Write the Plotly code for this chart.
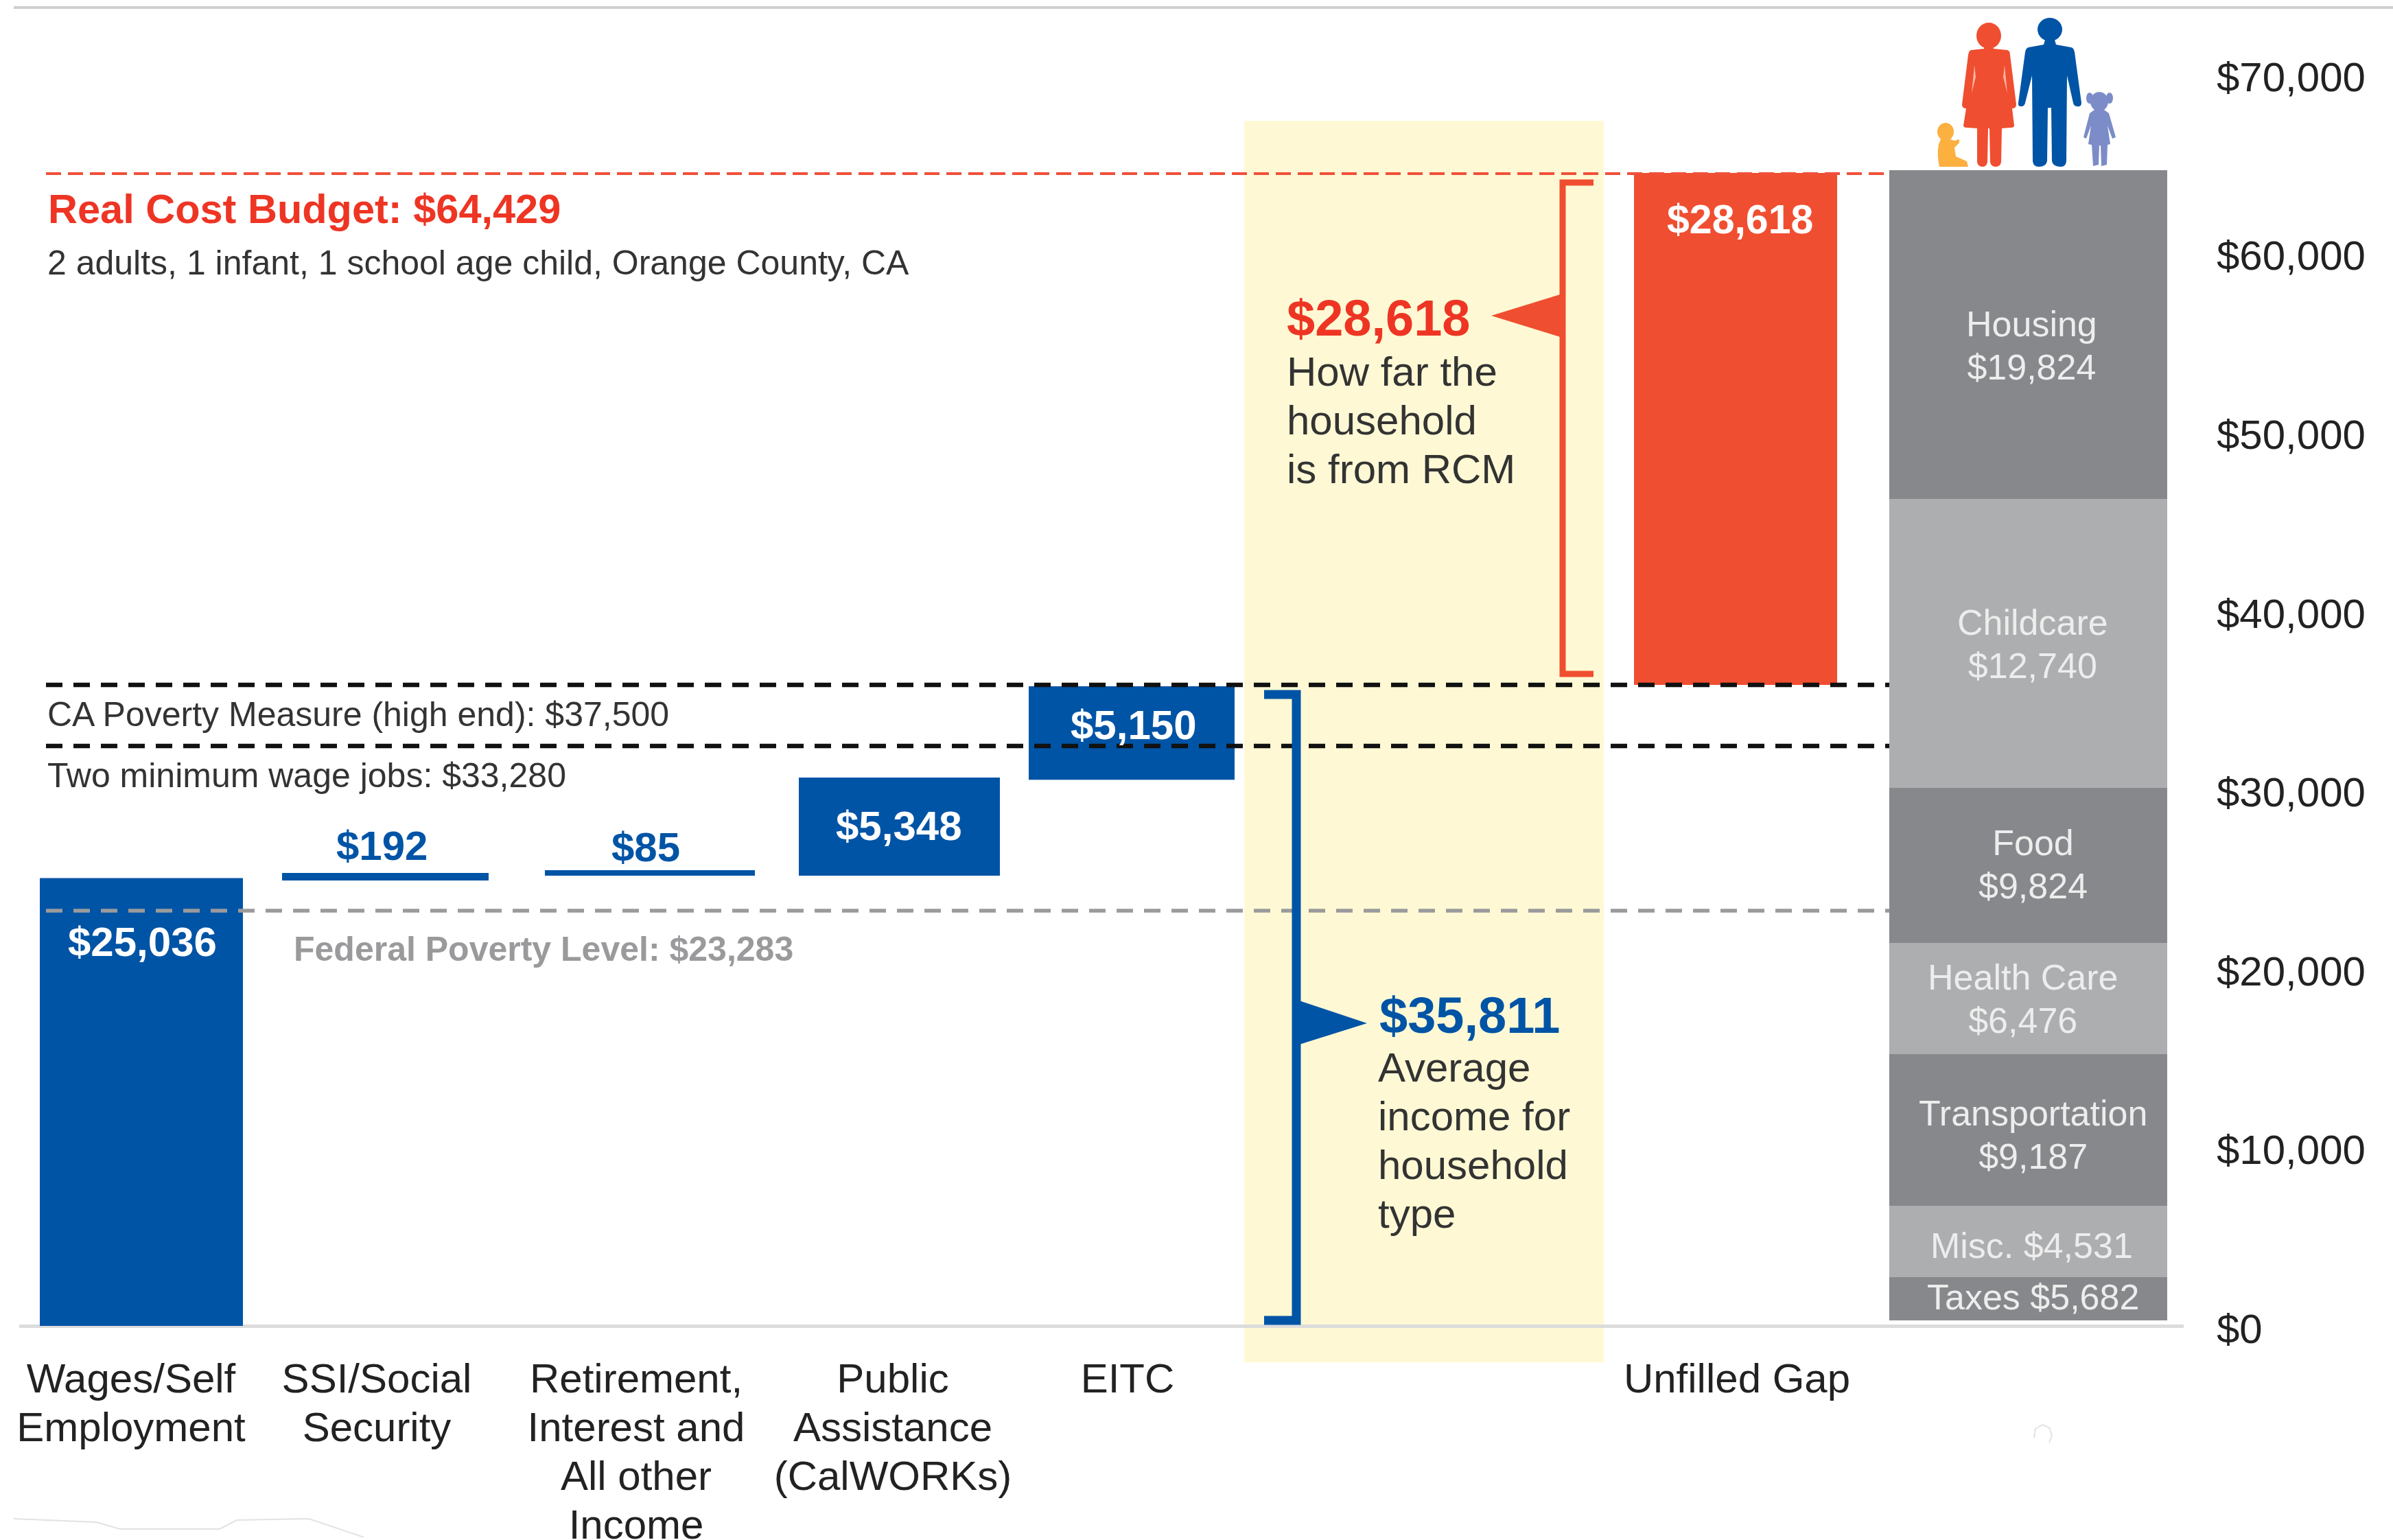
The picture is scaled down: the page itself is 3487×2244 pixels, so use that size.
import re
import plotly.graph_objects as go

# ---------- data ----------
categories = ["Wages/Self Employment", "SSI/Social Security", "Retirement, Interest and All other Income",
              "Public Assistance (CalWORKs)", "EITC", "Unfilled Gap"]
income_labels = ["$25,036", "$192", "$85", "$5,348", "$5,150"]
income_base = [0, 24900, 25170, 25170, 30540]
income_height = [25036, 430, 310, 5490, 5220]
gap_label = "$28,618"
gap_base = 35840
gap_height = 28630

budget_items = ["Taxes $5,682", "Misc. $4,531", "Transportation<br>$9,187", "Health Care<br>$6,476",
                "Food<br>$9,824", "Childcare<br>$12,740", "Housing<br>$19,824"]
budget_start = 307
budget_heights = [2417, 3991, 8481, 6216, 8672, 16156, 18380]

real_cost_level = 64429
ca_poverty_level = 35840
min_wage_level = 32425
federal_poverty_level = 23215
y_ticks = [0, 10000, 20000, 30000, 40000, 50000, 60000, 70000]
y_tick_labels = ["$0", "$10,000", "$20,000", "$30,000", "$40,000", "$50,000", "$60,000", "$70,000"]

# ---------- geometry / style ----------
W, H = 3487, 2244
ZERO_PX, PX_PER_UNIT = 1932, 0.02606
PLOT_L, PLOT_R, PLOT_T, PLOT_B = 28, 3182, 10, 1985
FONT = "Liberation Sans, Arial, sans-serif"
BLUE, ORANGE, RED = "#0054A6", "#F04E30", "#EE3524"
DARK_GREY, LIGHT_GREY = "#87888C", "#ADAEB0"
YELLOW = "#FEF9D4"
INK = "#333333"

def V(px):
    return (ZERO_PX - px) / PX_PER_UNIT

def path(d):
    toks = re.findall(r"[A-Za-z]|-?\d+\.?\d*", d)
    out, is_x = [], True
    for t in toks:
        if t.isalpha():
            out.append(t); is_x = True
        else:
            out.append(t if is_x else f"{V(float(t)):.1f}")
            is_x = not is_x
    return " ".join(out)

def spaced(lines, size):
    return "<br>".join(f'<span style="font-size:{size}px">{l}</span>' for l in lines)

income_x = [206, 561.5, 947, 1310.5, 1649]
income_w = [296, 301, 306, 293, 300]
gap_x, gap_w = 2529, 296
stack_x, stack_w = 2955.5, 405
tick_x = [191, 549, 927, 1301, 1643, 2531]
tick_lines = [["Wages/Self", "Employment"], ["SSI/Social", "Security"],
              ["Retirement,", "Interest and", "All other", "Income"],
              ["Public", "Assistance", "(CalWORKs)"], ["EITC"], ["Unfilled Gap"]]

fig = go.Figure()

fig.add_trace(go.Bar(x=income_x, y=income_height, base=income_base, width=income_w,
                     marker=dict(color=BLUE, line_width=0), name="Income sources", showlegend=False,
                     customdata=categories[:5]))
fig.add_trace(go.Bar(x=[gap_x], y=[gap_height], base=[gap_base], width=[gap_w],
                     marker=dict(color=ORANGE, line_width=0), name="Unfilled Gap", showlegend=False))
stack_base, acc = [], budget_start
for h in budget_heights:
    stack_base.append(acc); acc += h
fig.add_trace(go.Bar(x=[stack_x] * 7, y=budget_heights, base=stack_base, width=[stack_w] * 7,
                     marker=dict(color=[DARK_GREY, LIGHT_GREY] * 3 + [DARK_GREY], line_width=0),
                     name="Budget", showlegend=False, customdata=budget_items))

def hline(level, color, width, dash, name):
    fig.add_trace(go.Scatter(x=[67, 2753], y=[level, level], mode="lines", name=name, showlegend=False,
                             line=dict(color=color, width=width, dash=dash)))

hline(real_cost_level, "#F0503A", 4, "22px,10px", "Real Cost Budget")
hline(ca_poverty_level, "#111111", 6.5, "24px,16px", "CA Poverty Measure")
hline(min_wage_level, "#111111", 6.5, "24px,16px", "Two minimum wage jobs")
hline(federal_poverty_level, "#9A9A9C", 5.5, "24px,16px", "Federal Poverty Level")

shapes = [
    dict(type="rect", xref="x", yref="y", layer="below", x0=1813, x1=2337, y0=V(1985), y1=V(176),
         fillcolor=YELLOW, line_width=0),
    dict(type="line", xref="paper", yref="paper", x0=(20 - PLOT_L) / (PLOT_R - PLOT_L), x1=(W - PLOT_L) / (PLOT_R - PLOT_L),
         y0=1 + (PLOT_T - 11) / (PLOT_B - PLOT_T), y1=1 + (PLOT_T - 11) / (PLOT_B - PLOT_T),
         line=dict(color="#CFCFCF", width=4)),
    # brackets
    dict(type="path", xref="x", yref="y", path=path("M 2322 266 L 2277 266 L 2277 982 L 2322 982"),
         line=dict(color=ORANGE, width=9)),
    dict(type="path", xref="x", yref="y", path=path("M 2280 427 L 2173 460 L 2280 493 Z"),
         fillcolor=ORANGE, line_width=0),
    dict(type="path", xref="x", yref="y", path=path("M 1842 1012 L 1889 1012 L 1889 1924 L 1842 1924"),
         line=dict(color=BLUE, width=13)),
    dict(type="path", xref="x", yref="y", path=path("M 1890 1457 L 1992 1491 L 1890 1523 Z"),
         fillcolor=BLUE, line_width=0),
]

def icon(d, color):
    shapes.append(dict(type="path", xref="x", yref="y", path=path(d), fillcolor=color, line_width=0))

def blob(cx, cy, rx, ry, color):
    shapes.append(dict(type="circle", xref="x", yref="y", x0=cx - rx, x1=cx + rx, y0=V(cy + ry), y1=V(cy - ry),
                       fillcolor=color, line_width=0))

# woman
blob(2898, 52, 18, 19, ORANGE)
icon("M 2892 68 L 2904 68 L 2905 71 L 2925 73 Q 2929 74 2929 80 L 2938 152 Q 2938 158 2932 158 L 2935 183 "
     "Q 2935 186 2930 186 L 2917 187 L 2916 236 Q 2915 243 2908 243 Q 2901 243 2900 236 L 2899 187 L 2897 187 "
     "L 2896 236 Q 2895 243 2889 243 Q 2882 243 2881 236 L 2881 187 L 2866 186 Q 2861 186 2861 183 L 2865 158 "
     "Q 2859 158 2859 152 L 2868 80 Q 2869 74 2872 73 L 2891 71 Z", ORANGE)
icon("M 2877 95 L 2879 112 L 2873 136 Z", "#F9B5A4")
icon("M 2921 95 L 2919 112 L 2925 136 Z", "#F9B5A4")
# man
blob(2987, 43, 18, 17, BLUE)
icon("M 2980 58 L 2994 58 L 2996 65 L 3018 69 Q 3022 70 3023 76 L 3033 150 Q 3033 156 3027 155 Q 3022 155 3021 150 "
     "L 3012 110 L 3011 235 Q 3010 243 3003 243 Q 2992 243 2990 235 L 2989 157 L 2984 157 L 2983 235 Q 2981 243 2971 243 "
     "Q 2963 243 2962 235 L 2961 110 L 2951 150 Q 2950 155 2945 155 Q 2940 155 2941 150 L 2951 76 Q 2952 70 2956 69 L 2978 65 Z",
     BLUE)
# girl
GIRL = "#7B8CC8"
blob(3059, 148, 13, 14, GIRL)
blob(3045, 143, 5, 8, GIRL)
blob(3074, 143, 5, 8, GIRL)
icon("M 3052 160 L 3066 160 L 3073 165 L 3083 200 L 3078 202 L 3071 183 L 3075 210 L 3071 211 L 3070 240 L 3062 242 "
     "L 3061 212 L 3059 212 L 3058 240 L 3050 242 L 3048 211 L 3043 210 L 3047 183 L 3040 202 L 3036 200 L 3045 165 Z", GIRL)
# baby
BABY = "#FBB040"
blob(2835, 192, 12, 13, BABY)
icon("M 2828 203 L 2842 203 L 2848 205 L 2855 203 L 2855 208 L 2848 215 L 2850 228 L 2866 235 L 2868 243 L 2826 243 "
     "Q 2822 225 2825 210 Z", BABY)

# faint scan marks
def pp(x, y):
    return f"{(x - PLOT_L) / (PLOT_R - PLOT_L):.5f} {1 - (y - PLOT_T) / (PLOT_B - PLOT_T):.5f}"
shapes.append(dict(type="path", xref="paper", yref="paper", line=dict(color="#E2E2E2", width=2),
                   path="M " + " L ".join(pp(*p) for p in [(20, 2213), (140, 2218), (175, 2228), (320, 2228), (345, 2215),
                                                           (450, 2213), (530, 2240)])))
shapes.append(dict(type="path", xref="paper", yref="paper", line=dict(color="#E2E2E2", width=2),
                   path="M " + " L ".join(pp(*p) for p in [(2964, 2095), (2966, 2082), (2976, 2076), (2986, 2080), (2990, 2092),
                                                           (2986, 2102)])))

annotations = []

def note(x, ypx, text, size, color=INK, bold=False, anchor="left"):
    annotations.append(dict(xref="x", yref="y", x=x, y=V(ypx), text=f"<b>{text}</b>" if bold else text,
                            showarrow=False, xanchor=anchor, yanchor="middle", align=anchor,
                            font=dict(family=FONT, size=size, color=color), borderpad=0, borderwidth=0))

def block(x, ypx_mid, lines, size, spacing, color=INK, anchor="left"):
    annotations.append(dict(xref="x", yref="y", x=x, y=V(ypx_mid), text=spaced(lines, size),
                            showarrow=False, xanchor=anchor, yanchor="middle", align=anchor,
                            font=dict(family=FONT, size=spacing / 1.3, color=color), borderpad=0, borderwidth=0))

note(70, 304, "Real Cost Budget: $64,429", 59.5, RED, True)
note(69, 383, "2 adults, 1 infant, 1 school age child, Orange County, CA", 50)
note(69, 1041, "CA Poverty Measure (high end): $37,500", 50)
note(69, 1130, "Two minimum wage jobs: $33,280", 50)
note(428, 1383, "Federal Poverty Level: $23,283", 50, "#9A9A9C", True)

income_label_pos = [(207, 1372, "#FFFFFF"), (556, 1232, BLUE), (941, 1234, BLUE), (1310, 1203, "#FFFFFF"), (1652, 1056, "#FFFFFF")]
for lab, (x, y, c) in zip(income_labels, income_label_pos):
    note(x, y, lab, 60, c, True, "center")
note(2535, 320, gap_label, 59, "#FFFFFF", True, "center")

note(1875, 463, gap_label, 74, RED, True)
block(1875, 612, ["How far the", "household", "is from RCM"], 60, 71)
note(2010, 1479, "$35,811", 74, BLUE, True)
block(2008, 1662, ["Average", "income for", "household", "type"], 60, 71)

label_pos = [(2962, 1890), (2960, 1815), (2962, 1653), (2947, 1455), (2962, 1259), (2962, 938), (2960, 503)]
for item, (x, y) in zip(budget_items, label_pos):
    block(x, y, item.split("<br>"), 52, 63, "#EDEDED", "center")

fig.update_layout(
    width=W, height=H, autosize=False, showlegend=False, barmode="overlay",
    paper_bgcolor="#FFFFFF", plot_bgcolor="#FFFFFF",
    margin=dict(l=PLOT_L, r=W - PLOT_R, t=PLOT_T, b=H - PLOT_B, pad=0, autoexpand=False),
    font=dict(family=FONT, color="#222222"),
    shapes=shapes, annotations=annotations,
    xaxis=dict(range=[PLOT_L, PLOT_R], tickmode="array", tickvals=tick_x,
               ticktext=[spaced(l, 60) for l in tick_lines],
               tickfont=dict(family=FONT, size=71 / 1.3, color="#222222"),
               ticks="", ticklabelstandoff=-12, showgrid=False, zeroline=False, showline=False),
    yaxis=dict(range=[V(PLOT_B), V(PLOT_T)], side="right", tickmode="array", tickvals=y_ticks,
               ticktext=y_tick_labels, tickfont=dict(family=FONT, size=60, color="#222222"),
               ticks="outside", ticklen=35, tickcolor="rgba(0,0,0,0)", ticklabelshift=4, showgrid=False,
               zeroline=True, zerolinecolor="#DCDCDC", zerolinewidth=5, showline=False),
)

fig.write_html("out.html", config={"displayModeBar": False},
               post_script="document.body.style.margin='0';document.body.style.overflow='hidden';")
